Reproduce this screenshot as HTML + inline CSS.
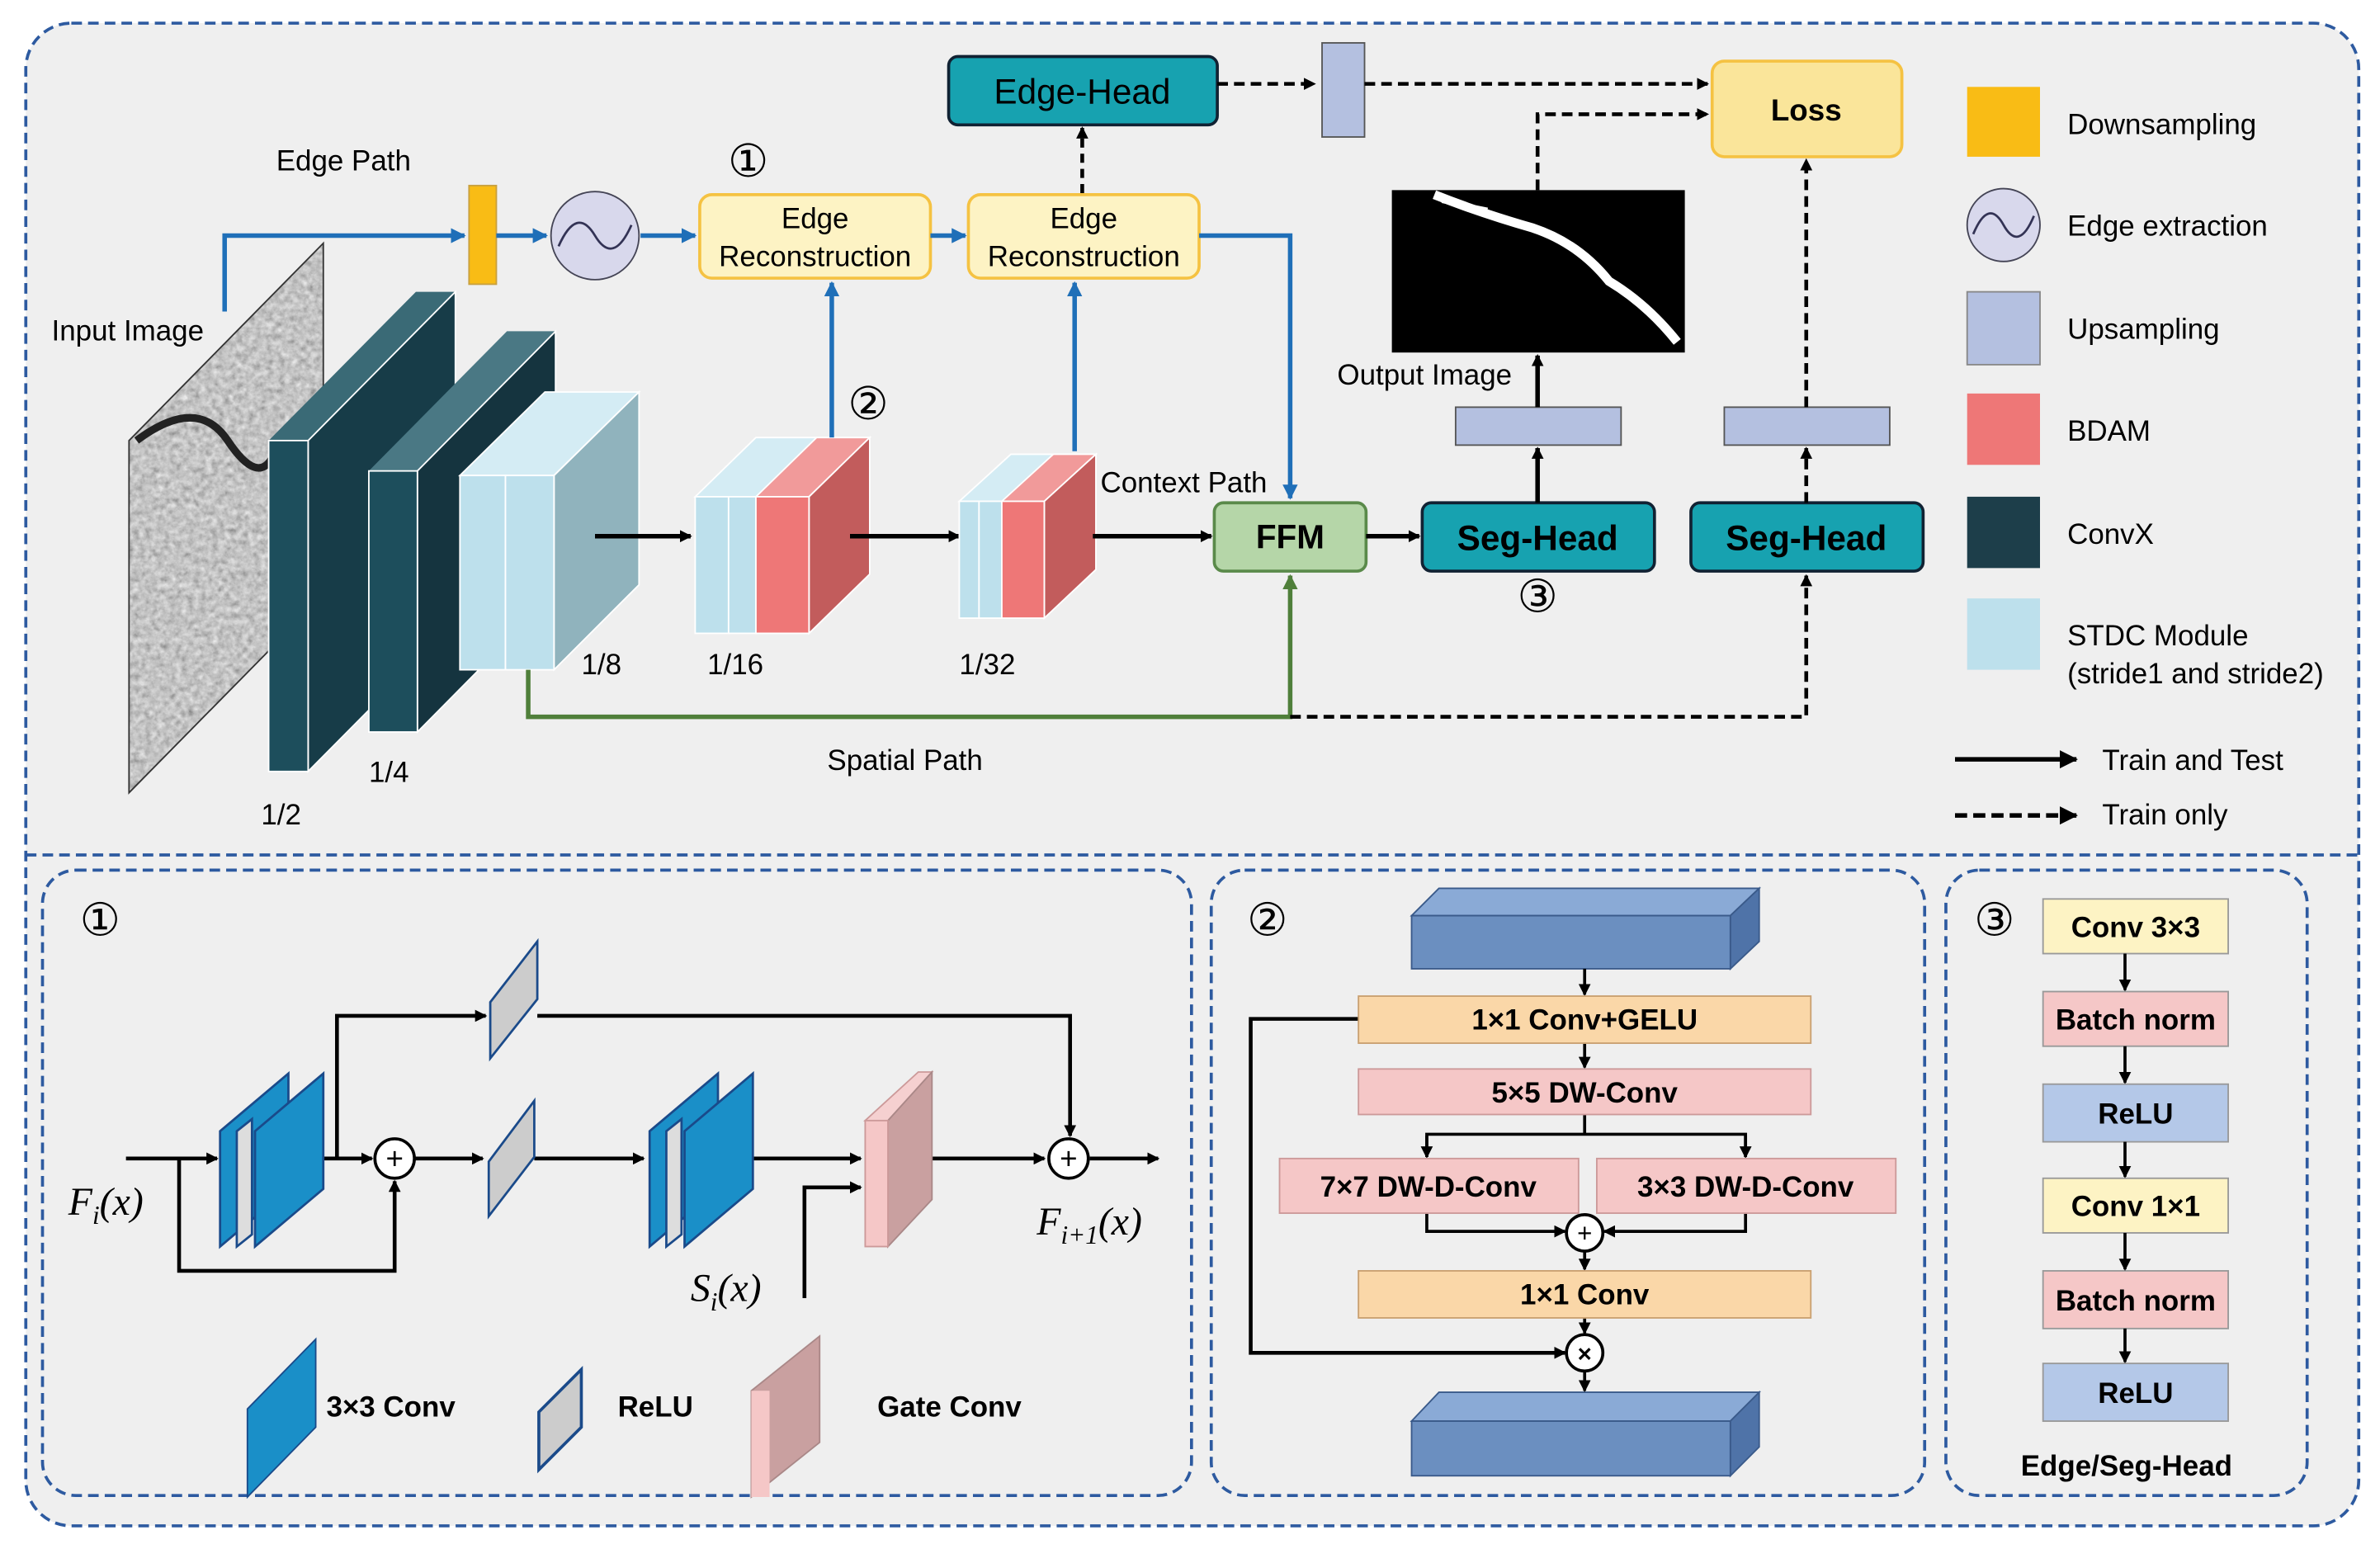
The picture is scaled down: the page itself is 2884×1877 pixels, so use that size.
<!DOCTYPE html>
<html><head><meta charset="utf-8"><style>html,body{margin:0;padding:0;background:#fff}svg{display:block}</style></head>
<body>
<svg width="2884" height="1877" viewBox="0 0 1568 1020" xmlns="http://www.w3.org/2000/svg" font-family="Liberation Sans, Arial, sans-serif">
<defs>
<marker id="ab" markerWidth="8" markerHeight="8" refX="7" refY="4" orient="auto" markerUnits="userSpaceOnUse"><path d="M0,0 L8,4 L0,8 z" fill="#000"/></marker>
<marker id="abl" markerWidth="10" markerHeight="10" refX="9" refY="5" orient="auto" markerUnits="userSpaceOnUse"><path d="M0,0 L10,5 L0,10 z" fill="#1f6fb8"/></marker>
<marker id="ag" markerWidth="10" markerHeight="10" refX="9" refY="5" orient="auto" markerUnits="userSpaceOnUse"><path d="M0,0 L10,5 L0,10 z" fill="#4f7f3a"/></marker>
<marker id="ak" markerWidth="12" markerHeight="12" refX="11" refY="6" orient="auto" markerUnits="userSpaceOnUse"><path d="M0,0 L12,6 L0,12 z" fill="#000"/></marker>
<filter id="tex" x="0" y="0" width="100%" height="100%"><feTurbulence type="fractalNoise" baseFrequency="0.25" numOctaves="3" seed="4"/><feColorMatrix type="matrix" values="0.33 0.33 0.33 0 0.05 0.33 0.33 0.33 0 0.05 0.33 0.33 0.33 0 0.05 0 0 0 0 1"/></filter>
<clipPath id="pc"><polygon points="85,290 213,160 213,392 85,522"/></clipPath>
</defs>
<rect width="1568" height="1020" fill="#fff"/>
<rect x="17" y="15" width="1537" height="990" rx="30" fill="#efefef" stroke="#2d5aa0" stroke-width="2" stroke-dasharray="7,4"/>
<line x1="17" y1="563" x2="1554" y2="563" stroke="#2d5aa0" stroke-width="2" stroke-dasharray="7,4"/>
<rect x="28" y="573" width="757" height="412" rx="22" fill="#efefef" stroke="#2d5aa0" stroke-width="2" stroke-dasharray="7,4"/>
<rect x="798" y="573" width="470" height="412" rx="22" fill="#efefef" stroke="#2d5aa0" stroke-width="2" stroke-dasharray="7,4"/>
<rect x="1282" y="573" width="238" height="412" rx="22" fill="#efefef" stroke="#2d5aa0" stroke-width="2" stroke-dasharray="7,4"/>

<g font-size="19" fill="#000">
<!-- input image -->
<g clip-path="url(#pc)"><rect x="85" y="160" width="128" height="362" filter="url(#tex)"/><path d="M90,290 Q130,260 150,290 Q170,320 180,300" stroke="#222" stroke-width="5" fill="none"/></g>
<polygon points="85,290 213,160 213,392 85,522" fill="none" stroke="#333" stroke-width="1"/>
<text x="34" y="224">Input Image</text>
<!-- convx1 -->
<polygon points="177,290 203,290 300,192 274,192" fill="#3a6a76"/>
<polygon points="203,290 300,192 300,410 203,508" fill="#173c48" stroke="#fff" stroke-width="1"/>
<rect x="177" y="290" width="26" height="218" fill="#1d4e5c" stroke="#fff" stroke-width="1"/>
<!-- convx2 -->
<polygon points="243,310 275,310 366,218 334,218" fill="#4a7884"/>
<polygon points="275,310 366,218 366,390 275,482" fill="#15343f" stroke="#fff" stroke-width="1"/>
<rect x="243" y="310" width="32" height="172" fill="#1d4e5c" stroke="#fff" stroke-width="1"/>
<!-- stdc -->
<polygon points="303,313 365,313 421,258 359,258" fill="#d4ecf4" stroke="#fff"/>
<polygon points="365,313 421,258 421,385 365,441" fill="#90b3bd" stroke="#fff"/>
<rect x="303" y="313" width="30" height="128" fill="#bde0ec" stroke="#fff"/>
<rect x="333" y="313" width="32" height="128" fill="#bde0ec" stroke="#fff"/>
<text x="172" y="543">1/2</text><text x="243" y="515">1/4</text><text x="383" y="444">1/8</text>
<line x1="392" y1="353" x2="455" y2="353" stroke="#000" stroke-width="3" marker-end="url(#ab)"/>
<!-- 1/16 -->
<polygon points="458,327 533,327 573,288 498,288" fill="#d4ecf4" stroke="#fff"/>
<polygon points="498,327 533,327 573,288 538,288" fill="#f19a9a" stroke="#fff"/>
<polygon points="533,327 573,288 573,378 533,417" fill="#c25c5c" stroke="#fff"/>
<rect x="458" y="327" width="22" height="90" fill="#bde0ec" stroke="#fff"/>
<rect x="480" y="327" width="18" height="90" fill="#bde0ec" stroke="#fff"/>
<rect x="498" y="327" width="35" height="90" fill="#ee7777" stroke="#fff"/>
<text x="466" y="444">1/16</text>
<line x1="560" y1="353" x2="632" y2="353" stroke="#000" stroke-width="3" marker-end="url(#ab)"/>
<!-- 1/32 -->
<polygon points="632,330 688,330 722,299 666,299" fill="#d4ecf4" stroke="#fff"/>
<polygon points="660,330 688,330 722,299 694,299" fill="#f19a9a" stroke="#fff"/>
<polygon points="688,330 722,299 722,375 688,407" fill="#c25c5c" stroke="#fff"/>
<rect x="632" y="330" width="13" height="77" fill="#bde0ec" stroke="#fff"/>
<rect x="645" y="330" width="15" height="77" fill="#bde0ec" stroke="#fff"/>
<rect x="660" y="330" width="28" height="77" fill="#ee7777" stroke="#fff"/>
<text x="632" y="444">1/32</text>
<line x1="720" y1="353" x2="798" y2="353" stroke="#000" stroke-width="3" marker-end="url(#ab)"/>
<text x="725" y="324">Context Path</text>
<!-- FFM / heads -->
<rect x="800" y="331" width="100" height="45" rx="6" fill="#b5d6a8" stroke="#5a8a4a" stroke-width="2"/>
<text x="850" y="361" text-anchor="middle" font-weight="bold" font-size="22">FFM</text>
<line x1="900" y1="353" x2="935" y2="353" stroke="#000" stroke-width="3" marker-end="url(#ab)"/>
<rect x="937" y="331" width="153" height="45" rx="6" fill="#17a2b0" stroke="#123" stroke-width="2"/>
<text x="1013" y="362" text-anchor="middle" font-weight="bold" font-size="23">Seg-Head</text>
<rect x="1114" y="331" width="153" height="45" rx="6" fill="#17a2b0" stroke="#123" stroke-width="2"/>
<text x="1190" y="362" text-anchor="middle" font-weight="bold" font-size="23">Seg-Head</text>
<rect x="959" y="268" width="109" height="25" fill="#b4c0e0" stroke="#555"/>
<rect x="1136" y="268" width="109" height="25" fill="#b4c0e0" stroke="#555"/>
<line x1="1013" y1="331" x2="1013" y2="295" stroke="#000" stroke-width="3" marker-end="url(#ab)"/>
<line x1="1013" y1="268" x2="1013" y2="234" stroke="#000" stroke-width="3" marker-end="url(#ab)"/>
<rect x="917" y="125" width="193" height="107" fill="#000"/>
<path d="M945,128 Q975,140 1010,150 Q1040,160 1060,185 Q1085,200 1105,225" stroke="#fff" stroke-width="6" fill="none"/>
<path d="M950,132 L980,138" stroke="#fff" stroke-width="3"/>
<text x="881" y="253">Output Image</text>
<text x="1013" y="403" text-anchor="middle" font-size="30">③</text>
<path d="M1013,125 V75 H1125" stroke="#000" stroke-width="2.5" stroke-dasharray="7,4" fill="none" marker-end="url(#ab)"/>
<rect x="1128" y="40" width="125" height="63" rx="8" fill="#fae59a" stroke="#f5c242" stroke-width="2"/>
<text x="1190" y="79" text-anchor="middle" font-weight="bold" font-size="20">Loss</text>
<line x1="1190" y1="331" x2="1190" y2="295" stroke="#000" stroke-width="2.5" stroke-dasharray="7,4" marker-end="url(#ab)"/>
<line x1="1190" y1="268" x2="1190" y2="105" stroke="#000" stroke-width="2.5" stroke-dasharray="7,4" marker-end="url(#ab)"/>
<rect x="625" y="37" width="177" height="45" rx="6" fill="#17a2b0" stroke="#123" stroke-width="2"/>
<text x="713" y="68" text-anchor="middle" font-size="23">Edge-Head</text>
<line x1="802" y1="55" x2="866" y2="55" stroke="#000" stroke-width="2.5" stroke-dasharray="7,4" marker-end="url(#ab)"/>
<rect x="871" y="28" width="28" height="62" fill="#b4c0e0" stroke="#555"/>
<line x1="899" y1="55" x2="1125" y2="55" stroke="#000" stroke-width="2.5" stroke-dasharray="7,4" marker-end="url(#ab)"/>
<line x1="713" y1="127" x2="713" y2="84" stroke="#000" stroke-width="2.5" stroke-dasharray="6,4" marker-end="url(#ab)"/>
<!-- edge path -->
<text x="182" y="112">Edge Path</text>
<path d="M148,205 V155 H306" stroke="#1f6fb8" stroke-width="3" fill="none" marker-end="url(#abl)"/>
<rect x="309" y="122" width="18" height="65" fill="#f9bc15" stroke="#c8a040"/>
<line x1="327" y1="155" x2="360" y2="155" stroke="#1f6fb8" stroke-width="3" marker-end="url(#abl)"/>
<circle cx="392" cy="155" r="29" fill="#d8d8ec" stroke="#445"/>
<path d="M368,162 Q380,135 392,155 Q404,175 416,148" stroke="#335" stroke-width="1.5" fill="none"/>
<line x1="422" y1="155" x2="458" y2="155" stroke="#1f6fb8" stroke-width="3" marker-end="url(#abl)"/>
<rect x="461" y="128" width="152" height="55" rx="8" fill="#fdf3c4" stroke="#f5c242" stroke-width="2"/>
<text x="537" y="150" text-anchor="middle">Edge</text><text x="537" y="175" text-anchor="middle">Reconstruction</text>
<line x1="613" y1="155" x2="636" y2="155" stroke="#1f6fb8" stroke-width="3" marker-end="url(#abl)"/>
<rect x="638" y="128" width="152" height="55" rx="8" fill="#fdf3c4" stroke="#f5c242" stroke-width="2"/>
<text x="714" y="150" text-anchor="middle">Edge</text><text x="714" y="175" text-anchor="middle">Reconstruction</text>
<path d="M790,155 H850 V328" stroke="#1f6fb8" stroke-width="3" fill="none" marker-end="url(#abl)"/>
<line x1="548" y1="288" x2="548" y2="186" stroke="#1f6fb8" stroke-width="3" marker-end="url(#abl)"/>
<line x1="708" y1="297" x2="708" y2="186" stroke="#1f6fb8" stroke-width="3" marker-end="url(#abl)"/>
<text x="493" y="116" text-anchor="middle" font-size="30">①</text>
<text x="572" y="276" text-anchor="middle" font-size="30">②</text>
<!-- spatial -->
<path d="M348,441 V472 H850 V379" stroke="#4f7f3a" stroke-width="3" fill="none" marker-end="url(#ag)"/>
<path d="M850,472 H1190 V379" stroke="#000" stroke-width="2.5" stroke-dasharray="7,4" fill="none" marker-end="url(#ab)"/>
<text x="545" y="507">Spatial Path</text>
<!-- legend -->
<rect x="1296" y="57" width="48" height="46" fill="#f9bc15"/>
<circle cx="1320" cy="148" r="24" fill="#d8d8ec" stroke="#445"/>
<path d="M1300,154 Q1310,130 1320,148 Q1330,166 1340,142" stroke="#335" stroke-width="1.5" fill="none"/>
<rect x="1296" y="192" width="48" height="48" fill="#b4c0e0" stroke="#888"/>
<rect x="1296" y="259" width="48" height="47" fill="#ee7777"/>
<rect x="1296" y="327" width="48" height="47" fill="#1d3e4a"/>
<rect x="1296" y="394" width="48" height="47" fill="#bde0ec"/>
<text x="1362" y="88">Downsampling</text>
<text x="1362" y="155">Edge extraction</text>
<text x="1362" y="223">Upsampling</text>
<text x="1362" y="290">BDAM</text>
<text x="1362" y="358">ConvX</text>
<text x="1362" y="425">STDC Module</text>
<text x="1362" y="450">(stride1 and stride2)</text>
<line x1="1288" y1="500" x2="1368" y2="500" stroke="#000" stroke-width="3" marker-end="url(#ak)"/>
<line x1="1288" y1="537" x2="1368" y2="537" stroke="#000" stroke-width="3" stroke-dasharray="8,4" marker-end="url(#ak)"/>
<text x="1385" y="507">Train and Test</text>
<text x="1385" y="543">Train only</text>

<!-- panel 1 -->
<text x="66" y="616" text-anchor="middle" font-size="30">①</text>
<text x="45" y="800" font-family="Liberation Serif, serif" font-style="italic" font-size="26">F<tspan font-size="17" dy="6">i</tspan><tspan dy="-6">(x)</tspan></text>
<g stroke="#000" stroke-width="2.5" fill="none">
<line x1="83" y1="763" x2="143" y2="763" marker-end="url(#ab)"/>
<line x1="213" y1="763" x2="245" y2="763" marker-end="url(#ab)"/>
<path d="M222,763 V669 H320" marker-end="url(#ab)"/>
<path d="M354,669 H705 V748" marker-end="url(#ab)"/>
<path d="M118,763 V837 H260 V778" marker-end="url(#ab)"/>
<line x1="273" y1="763" x2="318" y2="763" marker-end="url(#ab)"/>
<line x1="352" y1="763" x2="424" y2="763" marker-end="url(#ab)"/>
<line x1="496" y1="763" x2="567" y2="763" marker-end="url(#ab)"/>
<path d="M530,855 V782 H567" marker-end="url(#ab)"/>
<line x1="614" y1="763" x2="688" y2="763" marker-end="url(#ab)"/>
<line x1="718" y1="763" x2="763" y2="763" marker-end="url(#ab)"/>
</g>
<g stroke="#1a4a8a" stroke-width="1.5">
<polygon points="145,745 190,707 190,783 145,821" fill="#1a8fc8"/>
<polygon points="156,745 166,737 166,813 156,821" fill="#ddd"/>
<polygon points="168,745 213,707 213,783 168,821" fill="#1a8fc8"/>
<polygon points="428,745 473,707 473,783 428,821" fill="#1a8fc8"/>
<polygon points="439,745 449,737 449,813 439,821" fill="#ddd"/>
<polygon points="451,745 496,707 496,783 451,821" fill="#1a8fc8"/>
<polygon points="323,660 354,620 354,658 323,697" fill="#ccc"/>
<polygon points="322,765 352,725 352,762 322,801" fill="#ccc"/>
</g>
<polygon points="570,738 605,706 614,706 585,738" fill="#f5d0d0" stroke="#c99"/>
<polygon points="585,738 614,706 614,790 585,821" fill="#c9a0a0" stroke="#a88"/>
<rect x="570" y="738" width="15" height="83" fill="#f5c7c7" stroke="#c99"/>
<circle cx="260" cy="763" r="13" fill="#fff" stroke="#000" stroke-width="2"/><text x="260" y="770" text-anchor="middle" font-size="20">+</text>
<circle cx="704" cy="763" r="13" fill="#fff" stroke="#000" stroke-width="2"/><text x="704" y="770" text-anchor="middle" font-size="20">+</text>
<text x="455" y="857" font-family="Liberation Serif, serif" font-style="italic" font-size="26">S<tspan font-size="17" dy="6">i</tspan><tspan dy="-6">(x)</tspan></text>
<text x="683" y="813" font-family="Liberation Serif, serif" font-style="italic" font-size="26">F<tspan font-size="17" dy="6">i+1</tspan><tspan dy="-6">(x)</tspan></text>
<polygon points="163,928 208,882 208,940 163,986" fill="#1a8fc8" stroke="#1a4a8a"/>
<polygon points="355,930 383,902 383,940 355,968" fill="#ccc" stroke="#1a4a8a" stroke-width="2"/>
<polygon points="495,916 540,880 540,950 495,986" fill="#c9a0a0" stroke="#a88"/>
<rect x="495" y="916" width="12" height="70" fill="#f5c7c7"/>
<g font-weight="bold"><text x="215" y="933">3×3 Conv</text><text x="407" y="933">ReLU</text><text x="578" y="933">Gate Conv</text></g>

<!-- panel 2 -->
<text x="835" y="616" text-anchor="middle" font-size="30">②</text>
<polygon points="930,603 948,585 1159,585 1140,603" fill="#8aaad6" stroke="#3a5a8a"/>
<polygon points="1140,603 1159,585 1159,620 1140,638" fill="#4f73a8" stroke="#3a5a8a"/>
<rect x="930" y="603" width="210" height="35" fill="#6b8fc0" stroke="#3a5a8a"/>
<polygon points="930,936 948,917 1159,917 1140,936" fill="#8aaad6" stroke="#3a5a8a"/>
<polygon points="1140,936 1159,917 1159,953 1140,972" fill="#4f73a8" stroke="#3a5a8a"/>
<rect x="930" y="936" width="210" height="36" fill="#6b8fc0" stroke="#3a5a8a"/>
<g stroke="#000" stroke-width="2" fill="none">
<line x1="1044" y1="638" x2="1044" y2="655" marker-end="url(#ab)"/>
<line x1="1044" y1="687" x2="1044" y2="703" marker-end="url(#ab)"/>
<path d="M1044,734 V747 M940,762 V747 H1150 V762"/>
<line x1="940" y1="748" x2="940" y2="762" marker-end="url(#ab)"/>
<line x1="1150" y1="748" x2="1150" y2="762" marker-end="url(#ab)"/>
<path d="M940,799 V811 H1031" marker-end="url(#ab)"/>
<path d="M1150,799 V811 H1057" marker-end="url(#ab)"/>
<line x1="1044" y1="824" x2="1044" y2="836" marker-end="url(#ab)"/>
<line x1="1044" y1="868" x2="1044" y2="878" marker-end="url(#ab)"/>
<path d="M895,671 H824 V891 H1031" stroke-width="2.5" marker-end="url(#ab)"/>
<line x1="1044" y1="903" x2="1044" y2="916" marker-end="url(#ab)"/>
</g>
<g font-weight="bold" text-anchor="middle">
<rect x="895" y="656" width="298" height="31" fill="#fad7a8" stroke="#c9a070"/><text x="1044" y="678">1×1 Conv+GELU</text>
<rect x="895" y="704" width="298" height="30" fill="#f5c7c7" stroke="#c99"/><text x="1044" y="726">5×5 DW-Conv</text>
<rect x="843" y="763" width="197" height="36" fill="#f5c7c7" stroke="#c99"/><text x="941" y="788">7×7 DW-D-Conv</text>
<rect x="1052" y="763" width="197" height="36" fill="#f5c7c7" stroke="#c99"/><text x="1150" y="788">3×3 DW-D-Conv</text>
<rect x="895" y="837" width="298" height="31" fill="#fad7a8" stroke="#c9a070"/><text x="1044" y="859">1×1 Conv</text>
</g>
<circle cx="1044" cy="812" r="12" fill="#fff" stroke="#000" stroke-width="2"/><text x="1044" y="818" text-anchor="middle" font-size="17">+</text>
<circle cx="1044" cy="891" r="12" fill="#fff" stroke="#000" stroke-width="2"/><text x="1044" y="897" text-anchor="middle" font-size="16" font-weight="bold">×</text>

<!-- panel 3 -->
<text x="1314" y="616" text-anchor="middle" font-size="30">③</text>
<g font-weight="bold" text-anchor="middle">
<rect x="1346" y="592" width="122" height="36" fill="#fdf3c4" stroke="#999"/><text x="1407" y="617">Conv 3×3</text>
<rect x="1346" y="653" width="122" height="36" fill="#f5c7c7" stroke="#999"/><text x="1407" y="678">Batch norm</text>
<rect x="1346" y="714" width="122" height="38" fill="#b4c8e8" stroke="#999"/><text x="1407" y="740">ReLU</text>
<rect x="1346" y="776" width="122" height="36" fill="#fdf3c4" stroke="#999"/><text x="1407" y="801">Conv 1×1</text>
<rect x="1346" y="837" width="122" height="38" fill="#f5c7c7" stroke="#999"/><text x="1407" y="863">Batch norm</text>
<rect x="1346" y="898" width="122" height="38" fill="#b4c8e8" stroke="#999"/><text x="1407" y="924">ReLU</text>
<text x="1401" y="972">Edge/Seg-Head</text>
</g>
<g stroke="#000" stroke-width="2">
<line x1="1400" y1="628" x2="1400" y2="652" marker-end="url(#ab)"/>
<line x1="1400" y1="689" x2="1400" y2="713" marker-end="url(#ab)"/>
<line x1="1400" y1="752" x2="1400" y2="775" marker-end="url(#ab)"/>
<line x1="1400" y1="812" x2="1400" y2="836" marker-end="url(#ab)"/>
<line x1="1400" y1="875" x2="1400" y2="897" marker-end="url(#ab)"/>
</g>
</g>
</svg>
</body></html>
